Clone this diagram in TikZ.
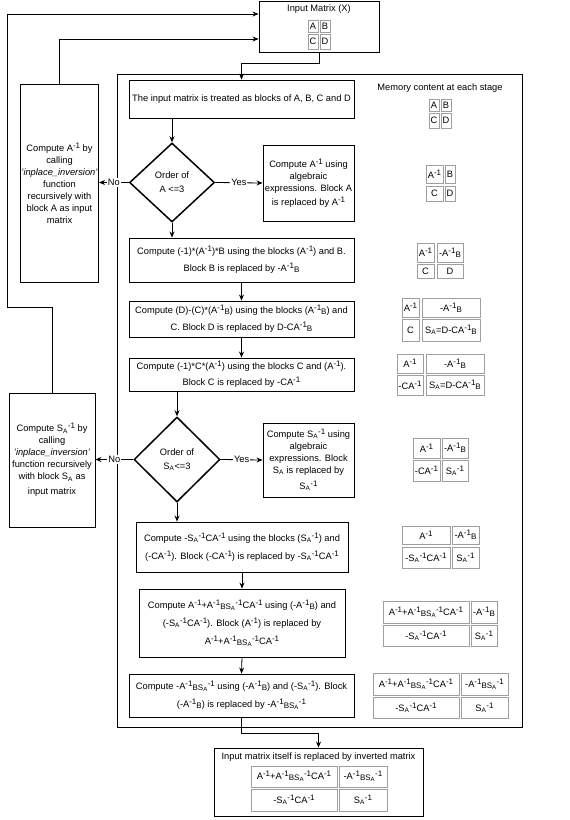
\documentclass[tikz,border=0pt]{standalone}
\usepackage{fontspec}
\setmainfont{Liberation Sans}
\usetikzlibrary{arrows.meta}
\usepgflibrary{shapes.geometric}

\newcommand{\iv}{\raisebox{0.6ex}{\footnotesize -1}}
\newcommand{\SA}{S\textsubscript{A}}
\newcommand{\lo}[1]{\raisebox{-0.2ex}{\footnotesize #1}}
\newcommand{\bsa}{\lo{BS\textsubscript{A}}}
% one memory cell: name, x1, y1, x2, y2, text
\newcommand{\mcell}[6]{\node[mcell, minimum width=#4-#2, minimum height=#5-#3] (#1) at ({(#2+#4)/2},{(#3+#5)/2}) {#6};}

\begin{document}
\begin{tikzpicture}[x=1pt, y=-1pt, >={Stealth[length=6pt,width=5pt]},
    font=\fontsize{9.3}{12}\selectfont,
    box/.style={draw, line width=0.9pt, align=center, inner sep=1pt},
    dia/.style={draw, diamond, line width=1.5pt, align=center, inner sep=0pt},
    mcell/.style={draw=gray!75, line width=0.8pt, inner sep=1pt},
    lab/.style={fill=white, inner sep=1pt}]

          \useasboundingbox (0,0) rectangle (570,820);

          % input matrix
          \node[box, minimum width=120, minimum height=51] (top) at (319,26.5) {};
          \node (toplab) at (319,9) {Input Matrix (X)};
          \mcell{xa}{308}{20}{318}{32}{A}
          \mcell{xb}{320}{20}{330}{32}{B}
          \mcell{xc}{308}{34}{318}{49}{C}
          \mcell{xd}{320}{34}{330}{49}{D}

          % frame of the function
          \draw[line width=0.9pt] (117,74) rectangle (522,727);

          % flow
          \node[box, minimum width=225, minimum height=38] (b0) at (241.5,99)
               {The input matrix is treated as blocks of A, B, C and D};
          \node[dia, minimum width=85, minimum height=79] (d1) at (172,182.5)
               {Order of\\[2pt]A <=3};
          \node[box, minimum width=91, minimum height=76] (ya) at (308.5,183)
               {Compute A\iv{} using\\algebraic\\expressions. Block A\\[2pt]is replaced by A\iv};
          \node[box, minimum width=77, minimum height=198] (la) at (59.5,183)
               {Compute A\iv{} by\\calling\\\textit{'inplace\_inversion'}\\function\\recursively with\\block A as input\\matrix};
          \node[box, minimum width=225, minimum height=44] (b3) at (241.5,260)
               {Compute (-1)*(A\iv)*B using the blocks (A\iv) and B.\\[5pt]Block B is replaced by -A\iv\lo{B}};
          \node[box, minimum width=225, minimum height=36] (b4) at (241.5,319)
               {Compute (D)-(C)*(A\iv\lo{B}) using the blocks (A\iv\lo{B}) and\\[5pt]C. Block D is replaced by D-CA\iv\lo{B}};
          \node[box, minimum width=225, minimum height=33] (b5) at (241.5,374.5)
               {Compute (-1)*C*(A\iv) using the blocks C and (A\iv).\\[4pt]Block C is replaced by -CA\iv};
          \node[dia, minimum width=86, minimum height=85] (d2) at (177,459.5)
               {Order of\\[2pt]\SA<=3};
          \node[box, minimum width=91, minimum height=74] (yb) at (308.5,460)
               {Compute \SA\iv{} using\\algebraic\\expressions. Block\\\SA{} is replaced by\\[4pt]\SA\iv};
          \node[box, minimum width=86, minimum height=134] (lb) at (52,460)
               {Compute \SA\iv{} by\\calling\\\textit{'inplace\_inversion'}\\function recursively\\with block \SA{} as\\[3pt]input matrix};
          \node[box, minimum width=212, minimum height=50] (b6) at (242,547)
               {Compute -\SA\iv CA\iv{} using the blocks (\SA\iv) and\\[6pt](-CA\iv). Block (-CA\iv) is replaced by -\SA\iv CA\iv};
          \node[box, minimum width=206, minimum height=68] (b7) at (242,623)
               {Compute A\iv+A\iv\bsa\iv CA\iv{} using (-A\iv\lo{B}) and\\[6pt](-\SA\iv CA\iv). Block (A\iv) is replaced by\\[6pt]A\iv+A\iv\bsa\iv CA\iv};
          \node[box, minimum width=225, minimum height=43] (b8) at (241.5,695.5)
               {Compute -A\iv\bsa\iv{} using (-A\iv\lo{B}) and (-\SA\iv). Block\\[6pt](-A\iv\lo{B}) is replaced by -A\iv\bsa\iv};

          % result
          \node[box, minimum width=209, minimum height=68] (fin) at (318.5,782) {};
          \node (finlab) at (318.5,757) {Input matrix itself is replaced by inverted matrix};
          \mcell{fa}{251}{766}{337}{787}{A\iv+A\iv\bsa\iv CA\iv}
          \mcell{fb}{339}{766}{387}{787}{-A\iv\bsa\iv}
          \mcell{fc}{251}{789}{337}{811}{-\SA\iv CA\iv}
          \mcell{fd}{339}{789}{387}{811}{\SA\iv}

          % connectors
          \draw[->, line width=0.8pt] (top.south) -- ++(0,11) -| (b0.north);
          \draw[->, line width=0.8pt] (b0.south -| d1.north) -- (d1.north);
          \draw[->, line width=0.8pt] (d1.east) -- (ya.west) node[lab, midway] {Yes};
          \draw[->, line width=0.8pt] (d1.west) -- (d1.west -| la.east) node[lab, midway] {No};
          \draw[->, line width=0.8pt] (la.north) |- ([yshift=-12.5pt]top.west);
          \draw[->, line width=0.8pt] (d1.south) -- (d1.south |- b3.north);
          \draw[->, line width=0.8pt] (b3.south) -- (b4.north);
          \draw[->, line width=0.8pt] (b4.south) -- (b5.north);
          \draw[->, line width=0.8pt] (b5.south -| d2.north) -- (d2.north);
          \draw[->, line width=0.8pt] (d2.east) -- (yb.west) node[lab, midway] {Yes};
          \draw[->, line width=0.8pt] (d2.west) -- (d2.west -| lb.east) node[lab, midway] {No};
          \draw[->, line width=0.8pt] (lb.north) |- (7,307) |- ([yshift=12.5pt]top.west);
          \draw[->, line width=0.8pt] (d2.south) -- (d2.south |- b6.north);
          \draw[->, line width=0.8pt] (b6.south) -- (b7.north);
          \draw[->, line width=0.8pt] (b7.south) -- (b8.north);
          \draw[->, line width=0.8pt] (b8.south) -- ++(0,16) -| (fin.north);

          % memory content
          \node (memlab) at (440,88) {Memory content at each stage};
          \mcell{m0a}{429}{99}{439}{111}{A}
          \mcell{m0b}{441}{99}{451}{111}{B}
          \mcell{m0c}{429}{113}{439}{128}{C}
          \mcell{m0d}{441}{113}{451}{128}{D}

          \mcell{m1a}{426}{165}{443}{183}{A\iv}
          \mcell{m1b}{445}{165}{455}{183}{B}
          \mcell{m1c}{426}{186}{443}{201}{C}
          \mcell{m1d}{445}{186}{455}{201}{D}

          \mcell{m2a}{417}{243}{434}{262}{A\iv}
          \mcell{m2b}{437}{243}{463}{262}{-A\iv\lo{B}}
          \mcell{m2c}{417}{264}{434}{278}{C}
          \mcell{m2d}{437}{264}{463}{278}{D}

          \mcell{m3a}{402}{298}{419}{317}{A\iv}
          \mcell{m3b}{422}{298}{480}{317}{-A\iv\lo{B}}
          \mcell{m3c}{402}{319}{419}{341}{C}
          \mcell{m3d}{422}{319}{480}{341}{\SA=D-CA\iv\lo{B}}

          \mcell{m4a}{397}{354}{423}{373}{A\iv}
          \mcell{m4b}{426}{354}{484}{373}{-A\iv\lo{B}}
          \mcell{m4c}{397}{375}{423}{395}{-CA\iv}
          \mcell{m4d}{426}{375}{484}{395}{\SA=D-CA\iv\lo{B}}

          \mcell{m5a}{413}{438}{440}{458}{A\iv}
          \mcell{m5b}{442}{438}{468}{458}{-A\iv\lo{B}}
          \mcell{m5c}{413}{460}{440}{481}{-CA\iv}
          \mcell{m5d}{442}{460}{468}{481}{\SA\iv}

          \mcell{m6a}{402}{526}{450}{544}{A\iv}
          \mcell{m6b}{452}{526}{479}{544}{-A\iv\lo{B}}
          \mcell{m6c}{402}{547}{450}{568}{-\SA\iv CA\iv}
          \mcell{m6d}{452}{547}{479}{568}{\SA\iv}

          \mcell{m7a}{383}{601}{469}{623}{A\iv+A\iv\bsa\iv CA\iv}
          \mcell{m7b}{471}{601}{497}{623}{-A\iv\lo{B}}
          \mcell{m7c}{383}{625}{469}{646}{-\SA\iv CA\iv}
          \mcell{m7d}{471}{625}{497}{646}{\SA\iv}

          \mcell{m8a}{373}{673}{459}{695}{A\iv+A\iv\bsa\iv CA\iv}
          \mcell{m8b}{461}{673}{508}{695}{-A\iv\bsa\iv}
          \mcell{m8c}{373}{697}{459}{718}{-\SA\iv CA\iv}
          \mcell{m8d}{461}{697}{508}{718}{\SA\iv}

\end{tikzpicture}
\end{document}
